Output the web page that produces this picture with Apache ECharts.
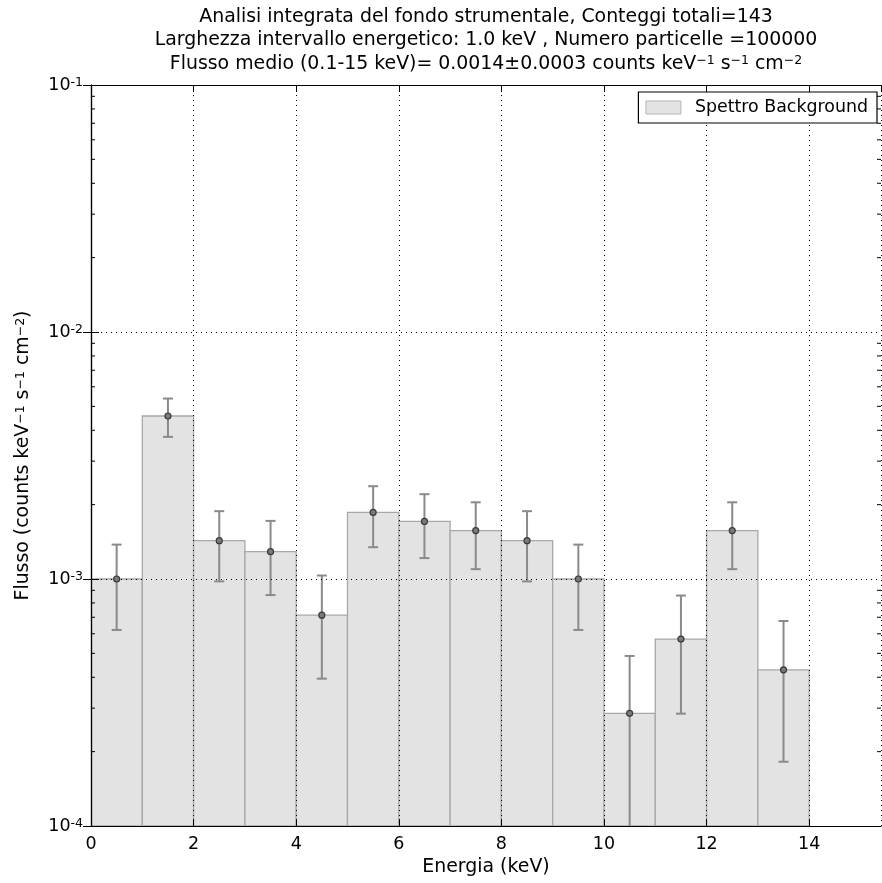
<!DOCTYPE html>
<html>
<head>
<meta charset="utf-8">
<script src="https://cdn.jsdelivr.net/npm/echarts@6/dist/echarts.min.js"></script>
<style>html,body{margin:0;padding:0;background:#fff}#c{width:882px;height:883px}</style>
</head>
<body>
<div id="c"></div>
<script>
// ---- data ----
const binLow  = [0, 1, 2, 3, 4, 5, 6, 7, 8, 9, 10, 11, 12, 13];
const binHigh = [1, 2, 3, 4, 5, 6, 7, 8, 9, 10, 11, 12, 13, 14];
const binCenter = [0.5, 1.5, 2.5, 3.5, 4.5, 5.5, 6.5, 7.5, 8.5, 9.5, 10.5, 11.5, 12.5, 13.5];
const flux    = [1.0e-3, 4.57e-3, 1.43e-3, 1.29e-3, 7.14e-4, 1.86e-3, 1.71e-3, 1.57e-3, 1.43e-3, 1.0e-3, 2.86e-4, 5.71e-4, 1.57e-3, 4.29e-4];
const fluxErr = [3.78e-4, 8.08e-4, 4.52e-4, 4.29e-4, 3.19e-4, 5.15e-4, 4.95e-4, 4.74e-4, 4.52e-4, 3.78e-4, 2.02e-4, 2.86e-4, 4.74e-4, 2.47e-4];
const xTicks = [0, 2, 4, 6, 8, 10, 12, 14];
const yMinorTicks = [2e-4,3e-4,4e-4,5e-4,6e-4,7e-4,8e-4,9e-4,
                     2e-3,3e-3,4e-3,5e-3,6e-3,7e-3,8e-3,9e-3,
                     2e-2,3e-2,4e-2,5e-2,6e-2,7e-2,8e-2,9e-2];
const seriesName = 'Spettro Background';
const titleLines = [
  'Analisi integrata del fondo strumentale, Conteggi totali=143',
  'Larghezza intervallo energetico: 1.0 keV , Numero particelle =100000',
  'Flusso medio (0.1-15 keV)= 0.0014\u00b10.0003 counts keV{s|\u22121} s{s|\u22121} cm{s|\u22122}'
];
const xName = 'Energia (keV)';
const yName = 'Flusso (counts keV{s|\u22121} s{s|\u22121} cm{s|\u22122})';

const FONT = 'DejaVu Sans';
const FS = 18.9;      // title / axis names
const FT = 17.5;      // tick labels
const FL = 17.4;      // legend
const supRich = {
  s: { fontSize: 12.5, fontFamily: FONT, verticalAlign: 'top', color: '#000' }
};

const chart = echarts.init(document.getElementById('c'), null, { renderer: 'canvas' });

const bars = binLow.map((l, i) => [l, binHigh[i], flux[i]]);
const errs = binCenter.map((c, i) => [c, flux[i] - fluxErr[i], flux[i] + fluxErr[i], flux[i]]);
const pts = binCenter.map((c, i) => [c, flux[i]]);

chart.setOption({
  animation: false,
  backgroundColor: '#fff',
  textStyle: { fontFamily: FONT },
  graphic: titleLines.map((t, i) => ({
    type: 'text',
    x: 486, y: 17 + i * 23.5,
    style: {
      text: t, fill: '#000', fontSize: FS, fontFamily: FONT,
      textAlign: 'center', textVerticalAlign: 'middle',
      rich: { s: { fontSize: 12.5, fontFamily: FONT, verticalAlign: 'top', fill: '#000' } }
    }
  })),
  legend: {
    right: 5, top: 92,
    orient: 'vertical',
    backgroundColor: '#fff',
    borderColor: '#000', borderWidth: 1.2, borderRadius: 0,
    padding: [7, 9, 7, 7],
    itemWidth: 35, itemHeight: 13,
    textStyle: { fontSize: FL, fontFamily: FONT, color: '#000', padding: [0, 0, 0, 9] },
    data: [{ name: seriesName, icon: 'rect', itemStyle: { color: '#e3e3e3', borderColor: '#b5b5b5', borderWidth: 1 } }]
  },
  grid: { left: 91, right: 1, top: 85, bottom: 57, containLabel: false },
  xAxis: [{
    type: 'value', min: 0, max: 15.4, interval: 2, z: 3,
    name: xName, nameLocation: 'middle', nameGap: 27,
    nameTextStyle: { fontSize: FS, fontFamily: FONT, color: '#000' },
    axisLine: { show: true, lineStyle: { color: '#000', width: 1.2 } },
    axisTick: { show: true, inside: true, length: 7, lineStyle: { color: '#000' } },
    axisLabel: { fontSize: FT, fontFamily: FONT, color: '#000', margin: 9, showMaxLabel: false,
      formatter: v => (xTicks.indexOf(v) >= 0 ? String(v) : '') },
    splitLine: { show: true, lineStyle: { color: '#000', type: [1, 4], width: 1 } }
  }, {
    type: 'value', min: 0, max: 15.4, interval: 2, position: 'top', z: 3,
    axisLine: { show: true, lineStyle: { color: '#000', width: 1.2 } },
    axisTick: { show: true, inside: true, length: 7, lineStyle: { color: '#000' } },
    axisLabel: { show: false },
    splitLine: { show: false }
  }],
  yAxis: [{
    type: 'log', logBase: 10, min: 1e-4, max: 1e-1, z: 3,
    name: yName, nameLocation: 'middle', nameGap: 58, nameRotate: 90,
    nameTextStyle: { fontSize: FS, fontFamily: FONT, color: '#000', rich: supRich },
    axisLine: { show: true, lineStyle: { color: '#000', width: 1.2 } },
    axisTick: { show: true, inside: true, length: 8, lineStyle: { color: '#000' } },
    axisLabel: {
      margin: 8, color: '#000',
      formatter: v => '{b|10}{e|' + Math.round(Math.log10(v)) + '}',
      rich: {
        b: { fontSize: FT, fontFamily: FONT, color: '#000' },
        e: { fontSize: 12.5, fontFamily: FONT, color: '#000', verticalAlign: 'top' }
      }
    },
    splitLine: { show: true, lineStyle: { color: '#000', type: [1, 4], width: 1 } }
  }, {
    type: 'log', logBase: 10, min: 1e-4, max: 1e-1, position: 'right', z: 3,
    axisLine: { show: true, lineStyle: { color: '#000', width: 1.2 } },
    axisTick: { show: true, inside: true, length: 8, lineStyle: { color: '#000' } },
    axisLabel: { show: false },
    splitLine: { show: false }
  }],
  series: [{
    name: seriesName,
    type: 'custom', z: 1,
    coordinateSystem: 'cartesian2d', xAxisIndex: 0, yAxisIndex: 0,
    itemStyle: { color: '#e3e3e3', borderColor: '#b5b5b5' },
    clip: true,
    data: bars,
    renderItem: (params, api) => {
      const p0 = api.coord([api.value(0), api.value(2)]);
      const p1 = api.coord([api.value(1), 1e-4]);
      return {
        type: 'rect',
        shape: { x: p0[0], y: p0[1], width: p1[0] - p0[0], height: p1[1] - p0[1] },
        style: { fill: '#e3e3e3', stroke: '#a8a8a8', lineWidth: 1.3 }
      };
    }
  }, {
    name: 'err',
    type: 'custom', z: 2,
    coordinateSystem: 'cartesian2d',
    clip: true,
    data: errs,
    renderItem: (params, api) => {
      const lo = api.coord([api.value(0), api.value(1)]);
      const hi = api.coord([api.value(0), api.value(2)]);
      const st = { stroke: '#8a8a8a', lineWidth: 2 };
      const cw = 5;
      return {
        type: 'group',
        children: [
          { type: 'line', shape: { x1: lo[0], y1: lo[1], x2: hi[0], y2: hi[1] }, style: st },
          { type: 'line', shape: { x1: lo[0] - cw, y1: lo[1], x2: lo[0] + cw, y2: lo[1] }, style: st },
          { type: 'line', shape: { x1: hi[0] - cw, y1: hi[1], x2: hi[0] + cw, y2: hi[1] }, style: st }
        ]
      };
    }
  }, {
    name: 'pts',
    type: 'scatter', z: 4,
    symbol: 'circle', symbolSize: 6,
    itemStyle: { color: '#7a7a7a', borderColor: '#3a3a3a', borderWidth: 1.2, opacity: 1 },
    data: pts
  }, {
    name: 'minorTicks',
    type: 'custom', z: 5,
    coordinateSystem: 'cartesian2d',
    data: yMinorTicks.map(v => [0, v]),
    renderItem: (params, api) => {
      const l = api.coord([0, api.value(1)]);
      const r = api.coord([15.4, api.value(1)]);
      const st = { stroke: '#000', lineWidth: 1 };
      return {
        type: 'group',
        children: [
          { type: 'line', shape: { x1: l[0], y1: l[1], x2: l[0] + 4, y2: l[1] }, style: st },
          { type: 'line', shape: { x1: r[0], y1: r[1], x2: r[0] - 4, y2: r[1] }, style: st }
        ]
      };
    }
  }]
});
</script>
</body>
</html>
